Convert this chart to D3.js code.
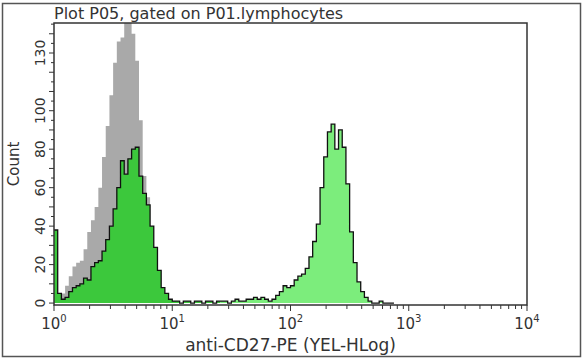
<!DOCTYPE html>
<html><head><meta charset="utf-8">
<script src="https://cdn.jsdelivr.net/npm/d3@7"></script>
<style>body{margin:0;background:#fff}svg{display:block}text{font-family:"DejaVu Sans",Verdana,sans-serif;fill:#333}</style>
</head><body>
<svg id="c" width="583" height="360"></svg>
<script>
const title = "Plot P05, gated on P01.lymphocytes";
const xLabel = "anti-CD27-PE (YEL-HLog)";
const yLabel = "Count";
const yTickLabels = [0, 20, 40, 60, 80, 100, 130];
const xDecades = [0, 1, 2, 3, 4];
const binsPerDecade = 32;
// control (gray) counts per channel bin
const control = [6,4,5,9,14,19,21,22,28,37,43,50,60,76,92,108,125,136,138,150,155,140,126,95,66,55,40,26,13,6,3,1,1,0];
// stained sample counts per channel bin
const stained = [38,5,2,3,6,8,9,10,13,12,19,21,22,27,33,40,49,60,74,67,75,80,81,66,57,51,40,29,17,8,5,2,1,1,0,1,1,0,1,1,0,1,1,0,1,1,1,0,1,2,1,1,2,2,3,2,3,2,1,2,4,6,9,8,9,12,14,15,18,24,32,41,60,76,89,93,80,90,81,62,37,21,11,6,3,1,0,0,1,0,0,0];
const regionSplit = 45; // bin index where second marker region starts

const svg = d3.select("#c");
const L = 54, R = 527, T = 23, B = 305;
const x = d3.scaleLog().domain([1, 1e4]).range([L, R]);
const y = d3.scaleLinear().domain([-1, 145.6]).range([B, T]);
const edge = i => Math.pow(10, i / binsPerDecade);

// outer frame
svg.append("rect").attr("x", 2.5).attr("y", 3.5).attr("width", 578).attr("height", 353)
  .attr("fill", "none").attr("stroke", "#555").attr("stroke-width", 1.5);

svg.append("defs").append("clipPath").attr("id", "clip")
  .append("rect").attr("x", L).attr("y", T).attr("width", R - L).attr("height", B - T);

const pts = (arr, a, b) => {
  const p = [];
  for (let i = a; i < b; i++) p.push({x: edge(i), v: arr[i]});
  p.push({x: edge(b), v: arr[b - 1]});
  return p;
};
const area = d3.area().curve(d3.curveStepAfter).x(d => x(d.x)).y0(y(0)).y1(d => y(d.v));
const line = d3.line().curve(d3.curveStepAfter).x(d => x(d.x)).y(d => y(d.v));

const g = svg.append("g").attr("clip-path", "url(#clip)");
g.append("path").datum(pts(control, 0, control.length)).attr("d", area).attr("fill", "#a9a9a9");
g.append("path").datum(pts(stained, 0, regionSplit)).attr("d", area).attr("fill", "#3cc83c");
g.append("path").datum(pts(stained, regionSplit, stained.length)).attr("d", area).attr("fill", "#7ced7c");
g.append("path").datum(pts(stained, 0, stained.length)).attr("d", line)
  .attr("fill", "none").attr("stroke", "#111").attr("stroke-width", 1.3);

// plot frame
svg.append("rect").attr("x", L).attr("y", T).attr("width", R - L).attr("height", B - T)
  .attr("fill", "none").attr("stroke", "#333").attr("stroke-width", 1.5);

// x axis ticks
const xt = svg.append("g");
xDecades.forEach(d => {
  const v = Math.pow(10, d);
  xt.append("line").attr("x1", x(v)).attr("x2", x(v)).attr("y1", B).attr("y2", B + 6).attr("stroke", "#333");
  if (d < 4) for (let m = 2; m <= 9; m++) {
    const mv = m * v;
    xt.append("line").attr("x1", x(mv)).attr("x2", x(mv)).attr("y1", B).attr("y2", B + 4).attr("stroke", "#333");
  }
  const t = xt.append("text").attr("x", x(v)).attr("y", 329).attr("text-anchor", "middle").attr("font-size", 15);
  t.append("tspan").text("10");
  t.append("tspan").attr("dy", -7).attr("font-size", 10).text(d);
});

// y axis ticks
const yt = svg.append("g");
d3.range(0, 146, 5).forEach(v => {
  const len = v % 10 === 0 ? 5 : 3;
  yt.append("line").attr("x1", L - len).attr("x2", L).attr("y1", y(v)).attr("y2", y(v)).attr("stroke", "#333");
});
yTickLabels.forEach(v => {
  yt.append("text").attr("transform", `translate(45,${y(v)}) rotate(-90)`)
    .attr("text-anchor", "middle").attr("font-size", 14).text(v);
});

svg.append("text").attr("x", 54).attr("y", 19).attr("font-size", 16).text(title);
svg.append("text").attr("x", x(100)).attr("y", 351).attr("text-anchor", "middle").attr("font-size", 17).text(xLabel);
svg.append("text").attr("transform", `translate(19,164) rotate(-90)`).attr("text-anchor", "middle").attr("font-size", 15).text(yLabel);
</script>
</body></html>
